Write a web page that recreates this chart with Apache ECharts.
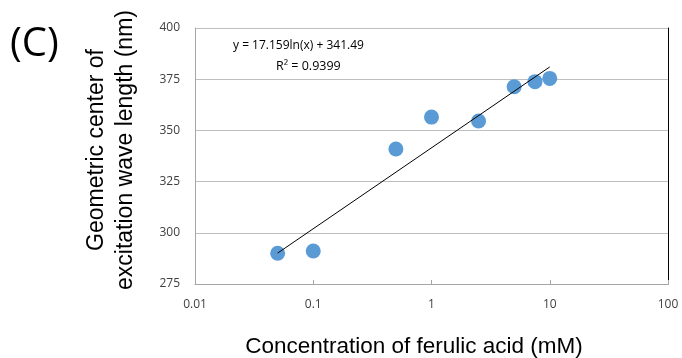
<!DOCTYPE html>
<html>
<head>
<meta charset="utf-8">
<script src="https://cdn.jsdelivr.net/npm/echarts@6/dist/echarts.min.js"></script>
<style>
  html, body { margin: 0; padding: 0; background: #fff; }
  #chart { width: 682px; height: 358px; }
</style>
</head>
<body>
<div id="chart"></div>
<script>
// Ferulic acid concentration (mM) and geometric centre of excitation wavelength (nm)
const concentration = [0.05, 0.1, 0.5, 1, 2.5, 5, 7.5, 10];
const wavelength = [290.0, 291.1, 340.9, 356.5, 354.6, 371.3, 373.8, 375.4];

// Logarithmic fit y = a*ln(x) + b
const fitA = 17.159;
const fitB = 341.49;
const fitR2 = 0.9399;
const fitRange = [0.05, 10];

const xTicks = [0.01, 0.1, 1, 10, 100];
const yTicks = [275, 300, 325, 350, 375, 400];

const xTitle = 'Concentration of ferulic acid (mM)';
const yTitle = 'Geometric center of\nexcitation wave length (nm)';

const FONT = '"Open Sans", "Noto Sans", sans-serif';
const TITLE_FONT = '"Liberation Sans", Arial, sans-serif';

const points = concentration.map((c, i) => [c, wavelength[i]]);
const fitLine = fitRange.map(x => [x, fitA * Math.log(x) + fitB]);

const chart = echarts.init(document.getElementById('chart'));
chart.setOption({
  animation: false,
  backgroundColor: '#ffffff',
  grid: { left: 195, right: 14, top: 28, bottom: 74, outerBoundsMode: 'none', containLabel: false },
  xAxis: {
    type: 'log',
    logBase: 10,
    min: xTicks[0],
    max: xTicks[xTicks.length - 1],
    axisLine: { lineStyle: { color: '#a6a6a6', width: 1 } },
    axisTick: { inside: true, length: 4, lineStyle: { color: '#a6a6a6' } },
    splitLine: { show: false },
    axisLabel: {
      margin: 15,
      fontFamily: FONT, fontSize: 12, color: '#404040',
      formatter: v => String(parseFloat(v.toPrecision(6)))
    }
  },
  yAxis: [{
    type: 'value',
    min: yTicks[0],
    max: yTicks[yTicks.length - 1],
    interval: 25,
    axisLine: { show: true, lineStyle: { color: '#a6a6a6', width: 1 } },
    axisTick: { show: false },
    splitLine: { lineStyle: { color: '#bfbfbf', width: 1 } },
    axisLabel: { margin: 15, fontFamily: FONT, fontSize: 12, color: '#404040' }
  }, {
    type: 'value',
    position: 'right',
    min: yTicks[0],
    max: yTicks[yTicks.length - 1],
    interval: 25,
    axisLine: { show: true, lineStyle: { color: '#000', width: 1 } },
    axisTick: { show: false },
    axisLabel: { show: false },
    splitLine: { show: false }
  }],
  series: [{
    type: 'scatter',
    data: points,
    symbolSize: 15,
    itemStyle: { color: '#5b9bd5', opacity: 1 },
    z: 2
  }, {
    type: 'line',
    data: fitLine,
    showSymbol: false,
    symbol: 'none',
    lineStyle: { color: '#000', width: 1 },
    z: 3
  }],
  graphic: [{
    type: 'text',
    left: 10, top: 25,
    style: { text: '(C)', font: '40px ' + FONT, fill: '#000' }
  }, {
    type: 'text',
    x: 111, y: 150,
    rotation: Math.PI / 2,
    style: {
      text: yTitle,
      font: '23px ' + TITLE_FONT,
      fill: '#000',
      align: 'center',
      verticalAlign: 'middle',
      lineHeight: 29
    }
  }, {
    type: 'text',
    x: 414, y: 347,
    style: {
      text: xTitle,
      font: '22.5px ' + TITLE_FONT,
      fill: '#000',
      align: 'center',
      verticalAlign: 'middle'
    }
  }, {
    type: 'text',
    x: 233, y: 46,
    style: {
      text: 'y = ' + fitA + 'ln(x) + ' + fitB,
      font: '12px ' + FONT, fill: '#000',
      verticalAlign: 'middle'
    }
  }, {
    type: 'text',
    x: 276, y: 66,
    style: {
      text: 'R² = ' + fitR2,
      font: '12.5px ' + FONT, fill: '#000',
      verticalAlign: 'middle'
    }
  }]
});
</script>
</body>
</html>
